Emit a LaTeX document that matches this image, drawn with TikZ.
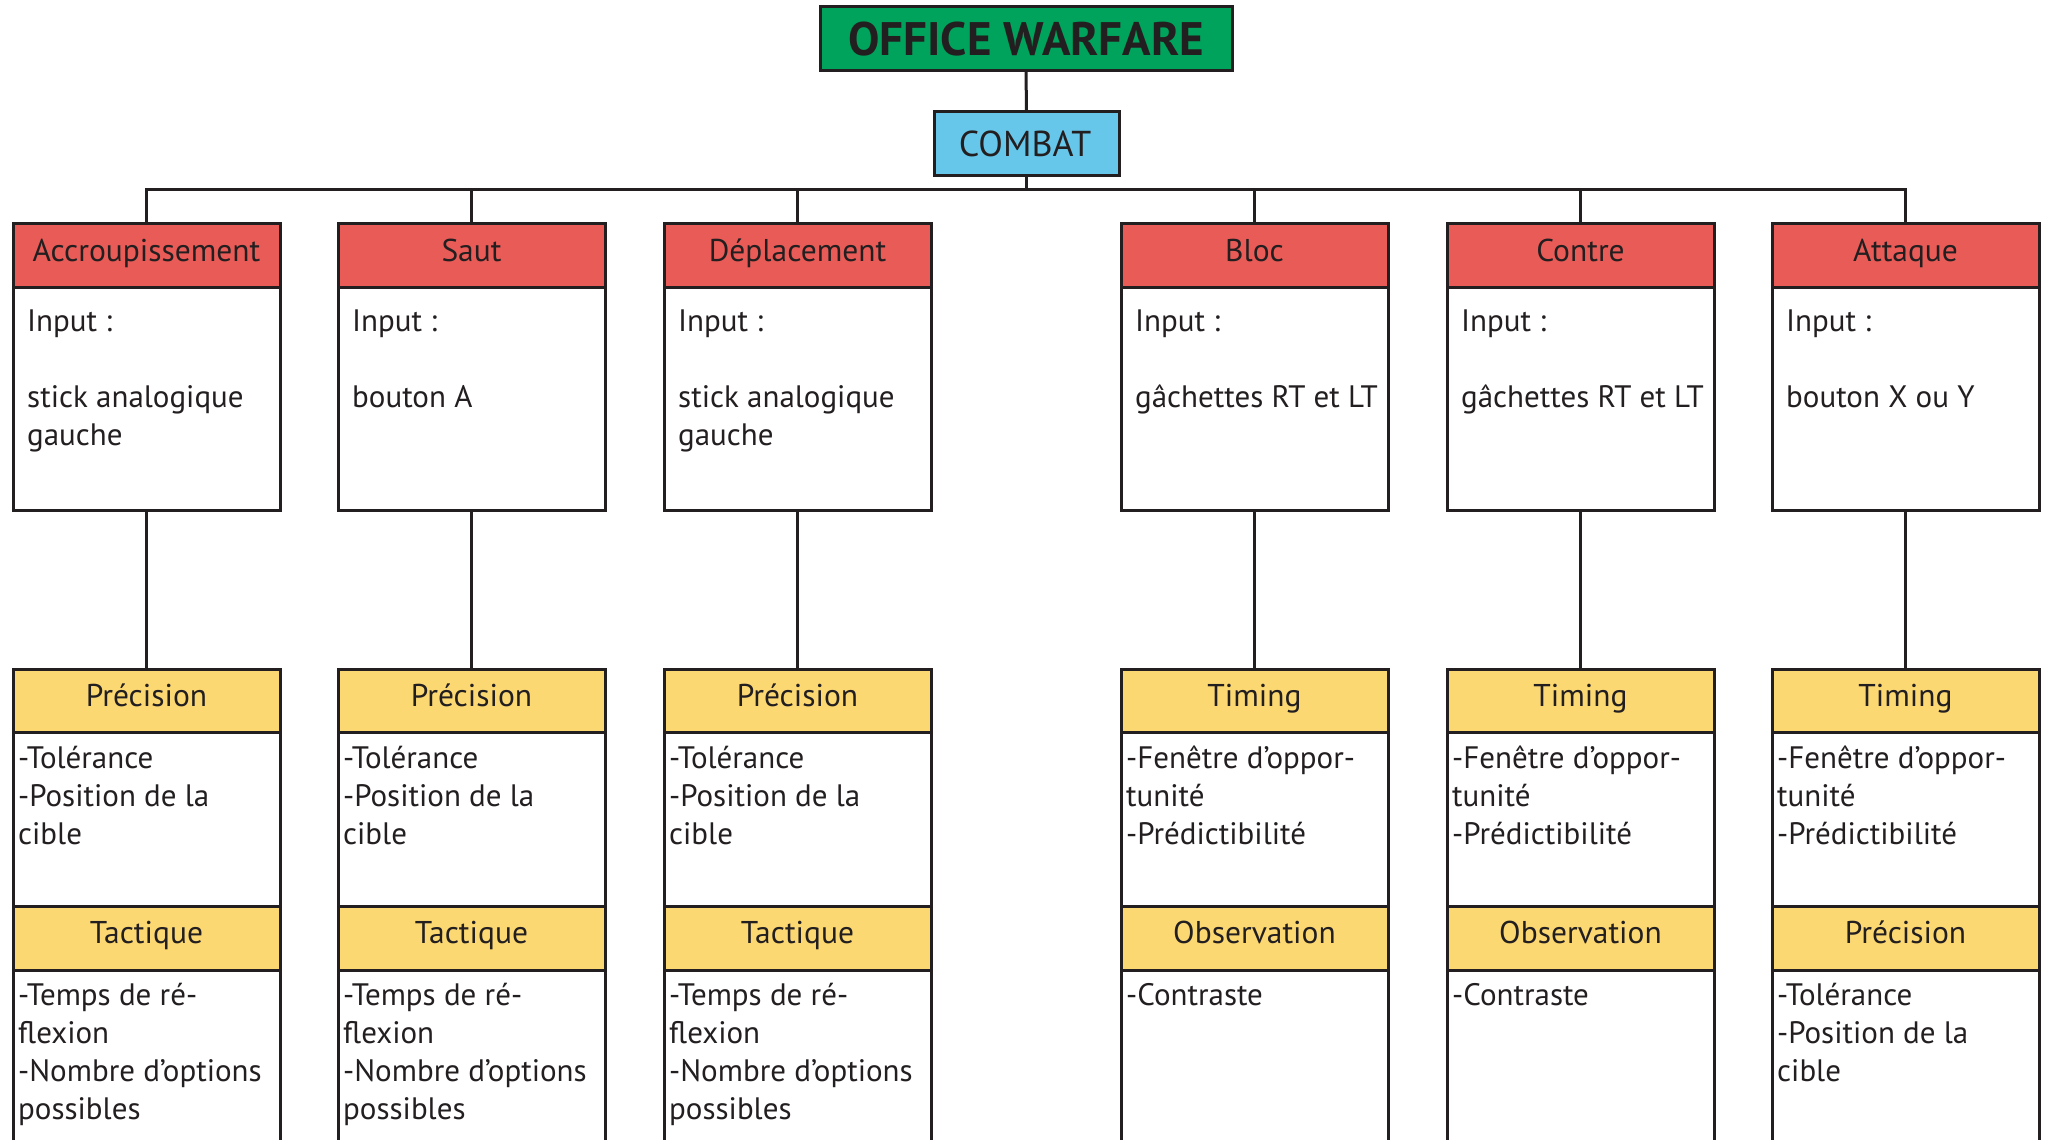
\documentclass[tikz,border=0pt]{standalone}
\usepackage{fontspec}
\setmainfont{PT Sans}
\definecolor{ink}{HTML}{231F20}
\definecolor{titlegreen}{HTML}{00A35B}
\definecolor{combatblue}{HTML}{67C7EA}
\definecolor{actionred}{HTML}{E85B57}
\definecolor{crityellow}{HTML}{FBD872}

\tikzset{
  wire/.style={draw=ink, line width=3pt},
  card/.style={draw=ink, line width=3pt, rectangle, inner sep=0pt, outer sep=0pt,
    anchor=north west, minimum width=267pt},
  redhead/.style={card, fill=actionred, minimum height=64pt},
  yellowhead/.style={card, fill=crityellow, minimum height=63pt},
  plainbody/.style={card, fill=white},
  headtext/.style={anchor=base, inner sep=0pt, text=ink,
    font=\fontsize{31.5}{38}\selectfont},
  bodytext/.style={anchor=base west, inner sep=0pt, text=ink,
    font=\fontsize{31}{38.2}\selectfont},
}

% upper card: action name and the controller input
\newcommand\actioncard[4]{%
  \node[plainbody, minimum height=223pt] (#1b) at (#2,287) {};
  \node[redhead] (#1h) at (#2,223) {};
  \node[headtext] (#1ht) at (#2+133.5,261) {#3};
  \node[bodytext] (#1bt) at (#2+14,331)
    {\begin{tabular}[t]{@{}l@{}}#4\end{tabular}};
}

% lower card: two criteria, each with its list
\newcommand\criteriacard[6]{%
  \node[plainbody, minimum height=174pt] (#1q) at (#2,732) {};
  \node[yellowhead] (#1p) at (#2,669) {};
  \node[headtext] (#1pt) at (#2+133.5,706) {#3};
  \node[bodytext] (#1qt) at (#2+5,768)
    {\begin{tabular}[t]{@{}l@{}}#4\end{tabular}};
  \node[plainbody, minimum height=200pt] (#1s) at (#2,970) {};
  \node[yellowhead, minimum height=64pt] (#1r) at (#2,906) {};
  \node[headtext] (#1rt) at (#2+133.5,943) {#5};
  \node[bodytext] (#1st) at (#2+5,1005)
    {\begin{tabular}[t]{@{}l@{}}#6\end{tabular}};
}

\begin{document}
\begin{tikzpicture}[x=1pt, y=-1pt]
\clip (0,0) rectangle (2046,1140);
\fill[white] (0,0) rectangle (2046,1140);

% title and branch
\node[draw=ink, line width=3pt, fill=titlegreen, inner sep=0pt, outer sep=0pt,
  anchor=north west, minimum width=412pt, minimum height=64pt] (title) at (820,7) {};
\node[anchor=base, inner sep=0pt, text=ink, font=\fontsize{47}{52}\selectfont\bfseries]
  (titletext) at (1026,56) {OFFICE WARFARE};
\node[draw=ink, line width=3pt, fill=combatblue, inner sep=0pt, outer sep=0pt,
  anchor=north west, minimum width=185pt, minimum height=64pt] (combat) at (934,111) {};
\node[anchor=base, inner sep=0pt, text=ink, font=\fontsize{36}{42}\selectfont]
  (combattext) at (1025,156) {COMBAT};

\coordinate (bus) at (1026.5,189);

% action cards
\actioncard{acc}{13}{Accroupissement}{Input :\\ \\stick analogique\\gauche}
\actioncard{saut}{338}{Saut}{Input :\\ \\bouton A}
\actioncard{dep}{664}{Déplacement}{Input :\\ \\stick analogique\\gauche}
\actioncard{bloc}{1121}{Bloc}{Input :\\ \\gâchettes RT et LT}
\actioncard{contre}{1447}{Contre}{Input :\\ \\gâchettes RT et LT}
\actioncard{att}{1772}{Attaque}{Input :\\ \\bouton X ou Y}

% criteria cards
\criteriacard{acc}{13}{Précision}{-Tolérance\\-Position de la\\cible}
  {Tactique}{-Temps de ré-\\flexion\\-Nombre d’options\\possibles}
\criteriacard{saut}{338}{Précision}{-Tolérance\\-Position de la\\cible}
  {Tactique}{-Temps de ré-\\flexion\\-Nombre d’options\\possibles}
\criteriacard{dep}{664}{Précision}{-Tolérance\\-Position de la\\cible}
  {Tactique}{-Temps de ré-\\flexion\\-Nombre d’options\\possibles}
\criteriacard{bloc}{1121}{Timing}{-Fenêtre d’oppor-\\tunité\\-Prédictibilité}
  {Observation}{-Contraste}
\criteriacard{contre}{1447}{Timing}{-Fenêtre d’oppor-\\tunité\\-Prédictibilité}
  {Observation}{-Contraste}
\criteriacard{att}{1772}{Timing}{-Fenêtre d’oppor-\\tunité\\-Prédictibilité}
  {Précision}{-Tolérance\\-Position de la\\cible}

% connectors
\draw[wire] (title.south) -- (combat.north);
\draw[wire] (combat.south) -- (bus);
\foreach \c in {acc,saut,dep,bloc,contre,att}{
  \draw[wire] (bus) -| (\c h.north);
  \draw[wire] (\c b.south) -- (\c p.north);
}
\end{tikzpicture}
\end{document}
